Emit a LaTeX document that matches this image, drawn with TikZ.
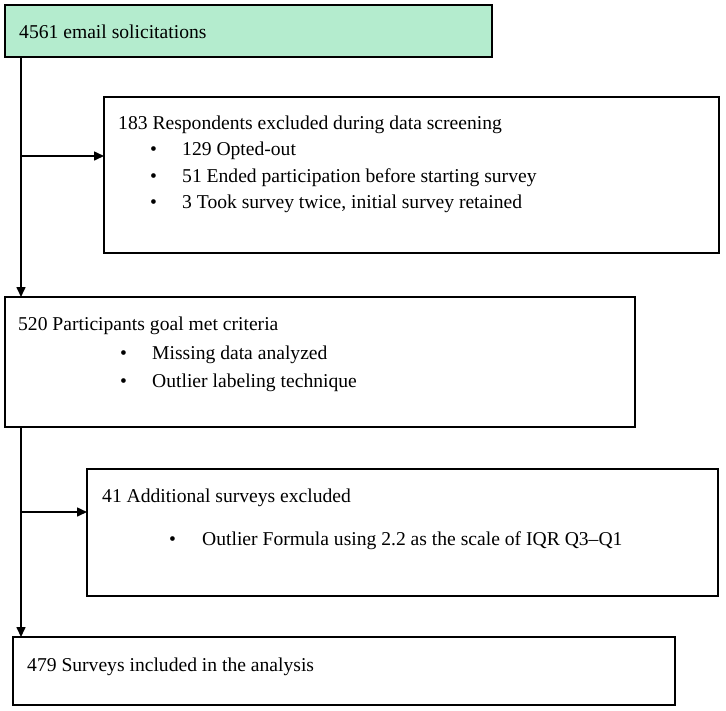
\documentclass[tikz,border=0pt]{standalone}
\usepackage{fontspec}
\setmainfont{Liberation Serif}
\usetikzlibrary{arrows.meta}
\definecolor{boxgreen}{RGB}{180,236,206}
\tikzset{
  box/.style={draw,line width=1.3pt,anchor=north west,inner sep=0pt,outer sep=0pt},
  txt/.style={anchor=base west,inner sep=0pt,font=\fontsize{19.6}{22}\selectfont},
  arr/.style={line width=1.6pt,-{Triangle[length=10pt,width=9pt]}}
}
\begin{document}
\begin{tikzpicture}[x=1pt,y=-1pt]
\useasboundingbox (0,0) rectangle (726,710);
\node[box,fill=boxgreen,minimum width=487pt,minimum height=52pt] (n1) at (5,5) {};
\node[box,minimum width=615pt,minimum height=156pt] (n2) at (104,97) {};
\node[box,minimum width=630pt,minimum height=130pt] (n3) at (5,297) {};
\node[box,minimum width=631pt,minimum height=127pt] (n4) at (87,469) {};
\node[box,minimum width=662pt,minimum height=68pt] (n5) at (13,637) {};

\node[txt] (t1) at (19,38) {4561 email solicitations};
\node[txt] (t2) at (118,129) {183 Respondents excluded during data screening};
\node[txt] (d21) at (150,155) {•};
\node[txt] (t21) at (182,155) {129 Opted-out};
\node[txt] (d22) at (150,182) {•};
\node[txt] (t22) at (182,182) {51 Ended participation before starting survey};
\node[txt] (d23) at (150,208) {•};
\node[txt] (t23) at (182,208) {3 Took survey twice, initial survey retained};
\node[txt] (t3) at (18,330) {520 Participants goal met criteria};
\node[txt] (d31) at (120,359) {•};
\node[txt] (t31) at (152,359) {Missing data analyzed};
\node[txt] (d32) at (120,387) {•};
\node[txt] (t32) at (152,387) {Outlier labeling technique};
\node[txt] (t4) at (102,502) {41 Additional surveys excluded};
\node[txt] (d41) at (169,545) {•};
\node[txt] (t41) at (202,545) {Outlier Formula using 2.2 as the scale of IQR Q3–Q1};
\node[txt] (t5) at (27,671) {479 Surveys included in the analysis};

\coordinate (s1) at (21,156);
\coordinate (s2) at (21,512);
\draw[arr] (n1.south -| s1) -- (n3.north -| s1);
\draw[arr] (s1) -- (s1 -| n2.west);
\draw[arr] (n3.south -| s2) -- (n5.north -| s2);
\draw[arr] (s2) -- (s2 -| n4.west);
\end{tikzpicture}
\end{document}
